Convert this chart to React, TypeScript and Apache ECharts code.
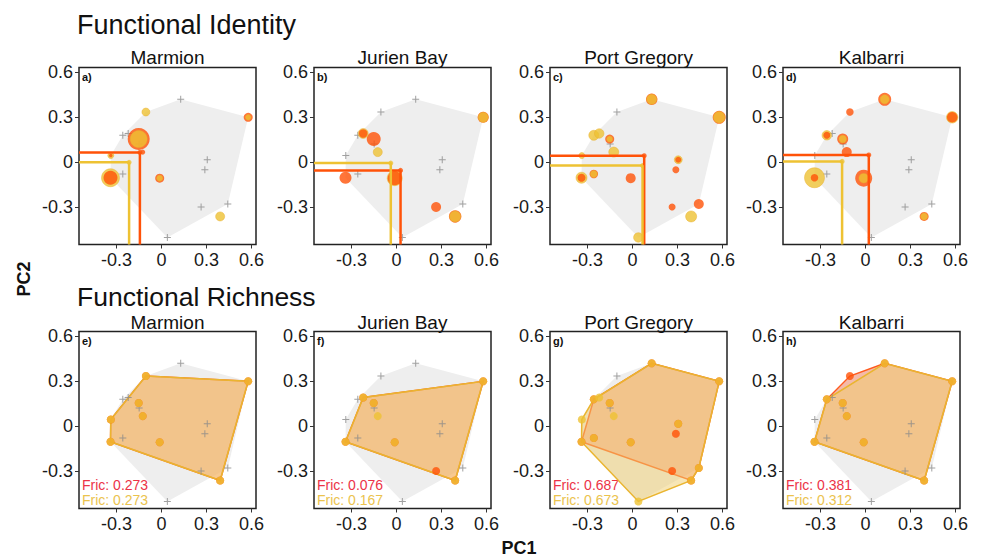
import React, { useEffect, useRef } from 'react';
import * as echarts from 'echarts';

// ---------- data ----------
const SITES = ['Marmion', 'Jurien Bay', 'Port Gregory', 'Kalbarri'];
const TOP_LETTERS = ['a)', 'b)', 'c)', 'd)'];
const BOTTOM_LETTERS = ['e)', 'f)', 'g)', 'h)'];
const TICKS = [-0.3, 0, 0.3, 0.6];

// species positions in trait space (S1..S18)
const PC1 = [0.128, -0.104, 0.578, -0.258, -0.222, -0.152, -0.149, -0.125, -0.338, 0.305, 0.289, -0.258, -0.34, -0.012, 0.264, 0.442, 0.391, 0.039];
const PC2 = [0.418, 0.333, 0.298, 0.178, 0.19, 0.153, 0.12, 0.066, 0.043, 0.015, -0.052, -0.08, -0.105, -0.108, -0.3, -0.28, -0.363, -0.503];
// species forming the regional pool hull
const POOL = [1, 1, 1, 1, 1, 1, 1, 1, 1, 1, 1, 1, 1, 1, 1, 1, 0, 1];

// abundance symbol sizes (0 = absent) for the two groups per site
const RED_MARMION = [0, 0.1, 9, 0, 0, 22, 0, 5, 3.5, 0, 0, 0, 14, 9, 0, 0, 0.1, 0];
const YEL_MARMION = [0, 8, 5.5, 0, 0, 17, 0, 0.1, 6, 0, 0, 0, 18, 6, 0, 0, 9, 0];
const RED_JURIEN = [0, 0, 11, 0, 8.5, 14, 0, 0, 0, 0, 0, 0, 12, 14, 10, 0, 12.5, 0];
const YEL_JURIEN = [0, 0, 10, 0, 10, 0.1, 0, 9, 0, 0, 0, 0, 0.1, 15, 0, 0, 11, 0];
const RED_PORTG = [11.5, 0, 13, 0.1, 0, 9, 0, 0, 0, 6, 7, 8.5, 8, 10, 7, 10, 0.1, 0];
const YEL_PORTG = [10, 0, 11.5, 10, 9.5, 6, 0, 10, 6, 8, 0, 7, 11, 0.1, 0, 0.1, 11, 9.5];
const RED_KALB = [13, 7.5, 10.5, 7, 0, 11, 0, 10, 0, 0, 0, 0, 7.5, 17, 0, 0, 9, 0];
const YEL_KALB = [9, 0, 11.5, 9.5, 0, 7.5, 0, 0.1, 0, 0, 0, 0, 20, 9.5, 0, 0, 7, 0];

const RED_SIZES = [RED_MARMION, RED_JURIEN, RED_PORTG, RED_KALB];
const YEL_SIZES = [YEL_MARMION, YEL_JURIEN, YEL_PORTG, YEL_KALB];

// community weighted means
const CWM_RED_X = [-0.144, 0.027, 0.078, 0.022];
const CWM_RED_Y = [0.064, -0.056, 0.042, 0.047];
const CWM_YEL_X = [-0.216, -0.038, 0.067, -0.156];
const CWM_YEL_Y = [-0.002, -0.007, -0.024, 0.004];

const FRIC_RED = [0.273, 0.076, 0.687, 0.381];
const FRIC_YEL = [0.273, 0.167, 0.673, 0.312];

// ---------- styles / layout ----------
const X_MIN = -0.55, X_MAX = 0.63, Y_MIN = -0.55, Y_MAX = 0.63;
const LEFTS = [79, 314, 550, 783];
const TOPS = [67.5, 331.5];
const SIZE = 177;
const RED = '#FF5208';
const YEL = '#EEC233';
const FAMILY = 'Liberation Sans, Arial, Helvetica, sans-serif';
const PLUS = 'path://M3,0H4V3H7V4H4V7H3V4H0V3H3Z';

function hull(points: number[][]): number[][] {
  const p = points.slice().sort((a, b) => a[0] - b[0] || a[1] - b[1]);
  if (p.length < 3) return p;
  const cross = (o: number[], a: number[], b: number[]) => (a[0] - o[0]) * (b[1] - o[1]) - (a[1] - o[1]) * (b[0] - o[0]);
  const lower: number[][] = [];
  for (const q of p) {
    while (lower.length >= 2 && cross(lower[lower.length - 2], lower[lower.length - 1], q) <= 0) lower.pop();
    lower.push(q);
  }
  const upper: number[][] = [];
  for (let i = p.length - 1; i >= 0; i--) {
    const q = p[i];
    while (upper.length >= 2 && cross(upper[upper.length - 2], upper[upper.length - 1], q) <= 0) upper.pop();
    upper.push(q);
  }
  upper.pop(); lower.pop();
  return lower.concat(upper);
}

const coordsOf = (mask: number[]) => PC1.map((x, i) => [x, PC2[i]]).filter((_, i) => mask[i] > 0);

function polySeries(idx: number, pts: number[][], fill: string, stroke: string, lw: number) {
  const h = hull(pts);
  return {
    type: 'custom', xAxisIndex: idx, yAxisIndex: idx, silent: true, clip: false,
    data: [[0, 0]],
    label: { show: false },
    renderItem: (_p: any, api: any) => ({
      type: 'polygon',
      shape: { points: h.map((q) => api.coord(q)) },
      style: { fill, stroke, lineWidth: lw },
    }),
  };
}

function txt(x: number, y: number, text: string, size: number, fill: string, opts: any = {}) {
  return {
    type: 'text', x, y, rotation: opts.rotation || 0, silent: true,
    style: {
      text, fill, fontSize: size, fontFamily: FAMILY, fontWeight: opts.bold ? 'bold' : 'normal',
      textAlign: opts.align || 'left', textVerticalAlign: 'middle',
    },
  };
}

export default function App() {
  const ref = useRef<HTMLDivElement>(null);
  useEffect(() => {
    if (!ref.current) return;
    const chart = echarts.init(ref.current, null, { renderer: 'svg' });
    const grids: any[] = [], xAxes: any[] = [], yAxes: any[] = [], series: any[] = [], graphic: any[] = [];
    const poolPts = coordsOf(POOL);

    for (let r = 0; r < 2; r++) {
      for (let c = 0; c < 4; c++) {
        const idx = r * 4 + c;
        const left = LEFTS[c], top = TOPS[r];
        grids.push({ left, top, width: SIZE, height: SIZE, show: true, borderColor: '#222', borderWidth: 1.5, backgroundColor: '#fff' });
        const label = { customValues: TICKS, fontSize: 18, color: '#1a1a1a', fontFamily: FAMILY, margin: 6, formatter: (v: number) => (v === 0 ? '0' : String(v)) };
        const common = {
          type: 'value', gridIndex: idx, name: '',
          axisLine: { show: false, onZero: false }, splitLine: { show: false }, axisPointer: { show: false },
          axisTick: { show: true, length: 4, customValues: TICKS, lineStyle: { color: '#333', width: 1 } },
          axisLabel: label,
        };
        xAxes.push({ ...common, position: 'bottom', min: X_MIN, max: X_MAX });
        yAxes.push({ ...common, position: 'left', min: Y_MIN, max: Y_MAX });

        const red = RED_SIZES[c], yel = YEL_SIZES[c];
        // pool hull
        series.push(polySeries(idx, poolPts, '#EEEEEE', 'none', 0));
        // absent species
        const absent = PC1.map((x, i) => [x, PC2[i]]).filter((_, i) => !(red[i] > 0) && !(yel[i] > 0));
        series.push({ type: 'scatter', xAxisIndex: idx, yAxisIndex: idx, silent: true, symbol: PLUS, symbolSize: 7, itemStyle: { color: '#8a8a8a' }, data: absent });

        if (r === 0) {
          const lines = [
            { x: CWM_RED_X[c], y: CWM_RED_Y[c], col: RED },
            { x: CWM_YEL_X[c], y: CWM_YEL_Y[c], col: YEL },
          ];
          for (const l of lines) {
            series.push({
              type: 'line', xAxisIndex: idx, yAxisIndex: idx, silent: true, symbol: 'none',
              lineStyle: { color: l.col, width: 2.5 },
              data: [[X_MIN, l.y], [l.x, l.y], [l.x, Y_MIN]],
            });
            series.push({ type: 'scatter', xAxisIndex: idx, yAxisIndex: idx, silent: true, symbolSize: 5, itemStyle: { color: l.col }, data: [[l.x, l.y]] });
          }
          const circles: any[] = [];
          PC1.forEach((x, i) => {
            if (red[i] > 0) circles.push({ value: [x, PC2[i]], symbolSize: red[i], itemStyle: { color: RED } });
            if (yel[i] > 0) circles.push({ value: [x, PC2[i]], symbolSize: yel[i], itemStyle: { color: YEL, borderColor: '#E9AE2E', borderWidth: 0.6 } });
          });
          circles.sort((a, b) => b.symbolSize - a.symbolSize);
          series.push({ type: 'scatter', xAxisIndex: idx, yAxisIndex: idx, silent: true, data: circles });
        } else {
          const redPts = coordsOf(red), yelPts = coordsOf(yel);
          series.push(polySeries(idx, redPts, 'rgba(255,90,40,0.35)', '#FF5A1E', 1.5));
          series.push(polySeries(idx, yelPts, 'rgba(240,205,110,0.5)', '#EAB530', 1.5));
          series.push({ type: 'scatter', xAxisIndex: idx, yAxisIndex: idx, silent: true, symbolSize: 8, itemStyle: { color: RED }, data: redPts });
          series.push({ type: 'scatter', xAxisIndex: idx, yAxisIndex: idx, silent: true, symbolSize: 8, itemStyle: { color: YEL }, data: yelPts });
          const bottom = top + SIZE;
          graphic.push(txt(left + 3, bottom - 24, 'Fric: ' + FRIC_RED[c].toFixed(3), 14, '#EC3347'));
          graphic.push(txt(left + 3, bottom - 8.5, 'Fric: ' + FRIC_YEL[c].toFixed(3), 14, '#EBC34E'));
        }
        graphic.push(txt(left + 3, top + 9, r === 0 ? TOP_LETTERS[c] : BOTTOM_LETTERS[c], 11, '#111', { bold: true }));
        graphic.push(txt(left + SIZE / 2, r === 0 ? 57 : 322.5, SITES[c], 19, '#111', { align: 'center' }));
      }
    }
    graphic.push(txt(77, 25, 'Functional Identity', 27, '#111'));
    graphic.push(txt(77, 296.5, 'Functional Richness', 26.5, '#111'));
    graphic.push(txt(24, 279, 'PC2', 18, '#111', { bold: true, align: 'center', rotation: Math.PI / 2 }));
    graphic.push(txt(519, 548, 'PC1', 18, '#111', { bold: true, align: 'center' }));

    chart.setOption({ animation: false, backgroundColor: '#fff', tooltip: { show: false }, grid: grids, xAxis: xAxes, yAxis: yAxes, series, graphic });
    return () => chart.dispose();
  }, []);
  return <div ref={ref} style={{ position: 'absolute', left: 0, top: 0, width: 985, height: 560 }} />;
}
